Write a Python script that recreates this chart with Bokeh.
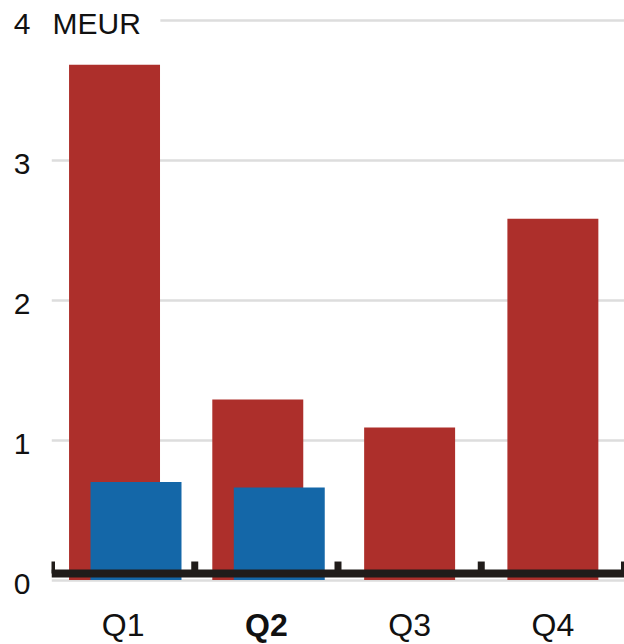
from bokeh.plotting import figure
from bokeh.models import ColumnDataSource, Range1d, FixedTicker, Label, BoxAnnotation, LinearAxis
from bokeh.core.properties import value
from bokeh.embed import file_html
from bokeh.resources import INLINE

# ---- data ----
quarters = ["Q1", "Q2", "Q3", "Q4"]
bold_quarter = "Q2"
series_red = [3.68, 1.29, 1.09, 2.58]
series_blue = [0.70, 0.66, None, None]
y_ticks = [0, 1, 2, 3, 4]
unit_label = "MEUR"

RED = "#ad2f2b"
BLUE = "#1467a8"
AXIS_BLACK = "#201c1a"
GRID = "#dddddd"
TEXT = "#111111"
FONT = "Liberation Sans"

PX = 140.0  # pixels per y unit
Y0, Y1 = -0.4607, 4.1393
LABEL_SHIFT = 4.0 / PX  # y tick labels sit slightly below their gridlines

n = len(quarters)
centers = [i + 0.5 for i in range(n)]
has_blue = [b is not None for b in series_blue]
bar_w = 0.635
red_x = [c - (0.06 if hb else 0.0) for c, hb in zip(centers, has_blue)]
blue_idx = [i for i, hb in enumerate(has_blue) if hb]
blue_x = [centers[i] + 0.09 for i in blue_idx]
blue_top = [series_blue[i] for i in blue_idx]

p = figure(width=624, height=644, output_backend="svg", toolbar_location=None,
           x_range=Range1d(0, n), y_range=Range1d(Y0, Y1),
           min_border_left=51, min_border_right=0, min_border_top=0, min_border_bottom=0,
           x_axis_location=None, y_axis_location=None)
p.outline_line_color = None
p.background_fill_color = "white"
p.border_fill_color = "white"

# y axis on a slightly shifted range so labels sit a few px below the gridlines
p.extra_y_ranges = {"lab": Range1d(Y0 + LABEL_SHIFT, Y1 + LABEL_SHIFT)}
ya = LinearAxis(y_range_name="lab", ticker=FixedTicker(ticks=y_ticks))
ya.axis_line_color = None
ya.major_tick_line_color = None
ya.minor_tick_line_color = None
ya.major_label_standoff = 15
ya.major_label_text_font = FONT
ya.major_label_text_font_size = "30px"
ya.major_label_text_color = TEXT
p.add_layout(ya, "left")

p.xgrid.visible = False
p.ygrid.ticker = FixedTicker(ticks=y_ticks)
p.ygrid.grid_line_color = GRID
p.ygrid.grid_line_width = 2.5

# bars
p.vbar(x=red_x, top=series_red, bottom=0, width=bar_w, fill_color=RED, line_color=None)
p.vbar(x=blue_x, top=blue_top, bottom=0, width=bar_w, fill_color=BLUE, line_color=None)

# baseline bar with boundary ticks
line_y = 0.046
tick_top = 0.132
p.segment(x0=[0], y0=[line_y], x1=[n + 0.1], y1=[line_y], line_width=8,
          line_color=AXIS_BLACK, line_cap="butt")
bounds = list(range(n + 1))
p.segment(x0=bounds, y0=[line_y] * len(bounds), x1=bounds, y1=[tick_top] * len(bounds),
          line_width=7, line_color=AXIS_BLACK, line_cap="butt")

# category labels
src = ColumnDataSource(dict(x=centers, y=[-0.318] * n, t=quarters,
                            st=["bold" if q == bold_quarter else "normal" for q in quarters]))
p.text(x="x", y="y", text="t", source=src, text_font=value(FONT), text_font_size="32px",
       text_font_style="st", text_align="center", text_baseline="middle", text_color=TEXT)

# unit label over the top gridline
p.add_layout(BoxAnnotation(left=0, right=0.76, bottom=3.97, top=4.03,
                           fill_color="white", fill_alpha=1, line_color=None))
p.add_layout(Label(x=0, y=4, x_offset=1, y_offset=-3.5, text=unit_label, text_font=FONT,
                   text_font_size="30px", text_baseline="middle", text_color=TEXT))

open("out.html", "w").write(file_html(p, INLINE))
